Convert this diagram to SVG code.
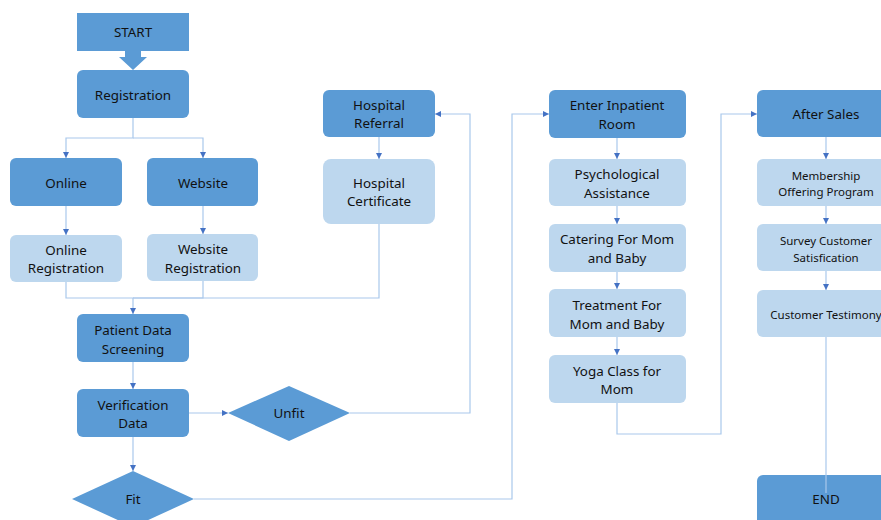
<svg xmlns="http://www.w3.org/2000/svg" width="881" height="520" viewBox="0 0 881 520">
<style>
.d{fill:#5B9BD5}
.l{fill:#BDD7EE}
text{font-family:"Noto Sans","Open Sans",sans-serif;font-size:13.4px;fill:#111;text-anchor:middle;dominant-baseline:central}
.s{font-size:11.5px}
.c{fill:none;stroke:#A9C8EC;stroke-width:1.2}
</style>
<defs>
<marker id="a" markerUnits="userSpaceOnUse" markerWidth="6" markerHeight="6" viewBox="0 0 6 6" refX="6" refY="3" orient="auto">
<path d="M0,0 L6,3 L0,6 Z" fill="#4472C4"/>
</marker>
</defs>
<rect width="881" height="520" fill="#fff"/>
<g id="start">
<rect class="d" x="77" y="13" width="112" height="38"/>
<polygon class="d" points="125,51 141,51 141,57 147,57 133,70 119,57 125,57"/>
<text x="133" y="32">START</text>
</g>
<g id="registration"><rect class="d" x="77" y="70" width="112" height="48" rx="6"/><text x="133" y="95">Registration</text></g>
<g id="online"><rect class="d" x="10" y="158" width="112" height="48" rx="6"/><text x="66" y="183">Online</text></g>
<g id="website"><rect class="d" x="147" y="158" width="111" height="48" rx="6"/><text x="203" y="183">Website</text></g>
<g id="online-reg"><rect class="l" x="10" y="235" width="112" height="47" rx="6"/><text x="66" y="250">Online</text><text x="66" y="268">Registration</text></g>
<g id="website-reg"><rect class="l" x="147" y="234" width="111" height="47" rx="6"/><text x="203" y="249">Website</text><text x="203" y="268">Registration</text></g>
<g id="screening"><rect class="d" x="77" y="314" width="112" height="48" rx="6"/><text x="133" y="330">Patient Data</text><text x="133" y="349">Screening</text></g>
<g id="verification"><rect class="d" x="77" y="389" width="112" height="48" rx="6"/><text x="133" y="405">Verification</text><text x="133" y="423">Data</text></g>
<g id="unfit"><polygon class="d" points="228,413 289,386 350,413 289,441"/><text x="289" y="413">Unfit</text></g>
<g id="fit"><polygon class="d" points="72,499 133,471 194,499 133,527"/><text x="133" y="499">Fit</text></g>
<g id="hospital-referral"><rect class="d" x="323" y="90" width="112" height="47" rx="6"/><text x="379" y="105">Hospital</text><text x="379" y="123">Referral</text></g>
<g id="hospital-certificate"><rect class="l" x="323" y="159" width="112" height="65" rx="8"/><text x="379" y="183">Hospital</text><text x="379" y="201">Certificate</text></g>
<g id="inpatient"><rect class="d" x="549" y="90" width="137" height="48" rx="6"/><text x="617" y="105">Enter Inpatient</text><text x="617" y="124">Room</text></g>
<g id="psychological"><rect class="l" x="549" y="159" width="137" height="47" rx="6"/><text x="617" y="174">Psychological</text><text x="617" y="193">Assistance</text></g>
<g id="catering"><rect class="l" x="549" y="224" width="137" height="48" rx="6"/><text x="617" y="239">Catering For Mom</text><text x="617" y="258">and Baby</text></g>
<g id="treatment"><rect class="l" x="549" y="289" width="137" height="48" rx="6"/><text x="617" y="305">Treatment For</text><text x="617" y="324">Mom and Baby</text></g>
<g id="yoga"><rect class="l" x="549" y="355" width="137" height="48" rx="6"/><text x="617" y="371">Yoga Class for</text><text x="617" y="389">Mom</text></g>
<g id="after-sales"><rect class="d" x="757" y="90" width="138" height="47" rx="6"/><text x="826" y="114">After Sales</text></g>
<g id="membership"><rect class="l" x="757" y="159" width="138" height="47" rx="6"/><text class="s" x="826" y="175">Membership</text><text class="s" x="826" y="191">Offering Program</text></g>
<g id="survey"><rect class="l" x="757" y="224" width="138" height="47" rx="6"/><text class="s" x="826" y="240">Survey Customer</text><text class="s" x="826" y="257">Satisfication</text></g>
<g id="testimony"><rect class="l" x="757" y="290" width="138" height="47" rx="6"/><text class="s" x="826" y="314">Customer Testimony</text></g>
<g id="end"><rect class="d" x="757" y="475" width="138" height="60" rx="6"/><text x="826" y="499">END</text></g>
<g id="connectors">
<path class="c" d="M133,118 V138 H66 V158" marker-end="url(#a)"/>
<path class="c" d="M133,138 H203 V158" marker-end="url(#a)"/>
<path class="c" d="M66,206 V235" marker-end="url(#a)"/>
<path class="c" d="M203,206 V234" marker-end="url(#a)"/>
<path class="c" d="M66,282 V298 H133 V314" marker-end="url(#a)"/>
<path class="c" d="M203,281 V298 H133"/>
<path class="c" d="M379,224 V298 H133"/>
<path class="c" d="M133,362 V389" marker-end="url(#a)"/>
<path class="c" d="M189,413 H228" marker-end="url(#a)"/>
<path class="c" d="M133,437 V471" marker-end="url(#a)"/>
<path class="c" d="M350,413 H470 V114 H435" marker-end="url(#a)"/>
<path class="c" d="M379,137 V159" marker-end="url(#a)"/>
<path class="c" d="M194,499 H512 V114 H549" marker-end="url(#a)"/>
<path class="c" d="M617,138 V159" marker-end="url(#a)"/>
<path class="c" d="M617,206 V224" marker-end="url(#a)"/>
<path class="c" d="M617,272 V289" marker-end="url(#a)"/>
<path class="c" d="M617,337 V355" marker-end="url(#a)"/>
<path class="c" d="M617,403 V434 H721 V114 H757" marker-end="url(#a)"/>
<path class="c" d="M826,137 V159" marker-end="url(#a)"/>
<path class="c" d="M826,206 V224" marker-end="url(#a)"/>
<path class="c" d="M826,271 V290" marker-end="url(#a)"/>
<path class="c" d="M826,337 V493" stroke="#7FA8DA"/>
</g>
</svg>
